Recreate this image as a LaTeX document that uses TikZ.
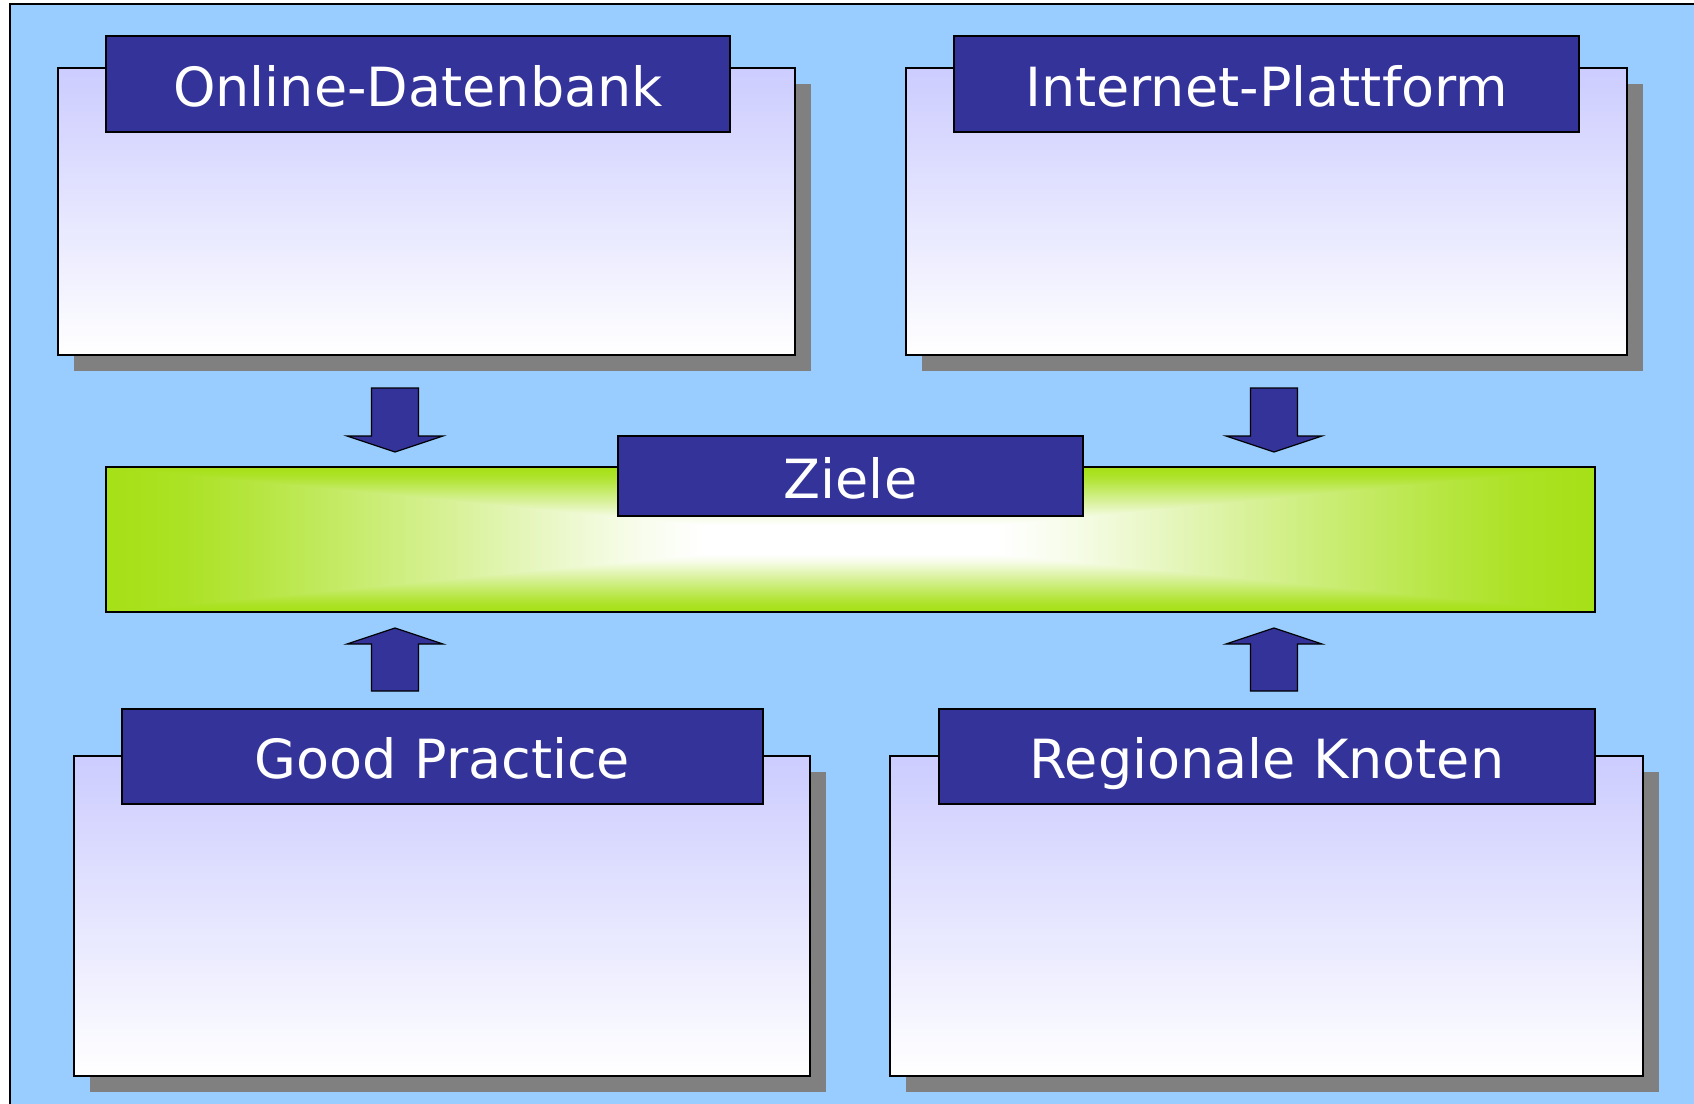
\documentclass[tikz,border=0pt]{standalone}
\usepackage{fontspec}
\setmainfont{DejaVu Sans}

\definecolor{bgblue}{HTML}{99CCFF}
\definecolor{navy}{HTML}{333399}
\definecolor{lavender}{HTML}{CCCCFF}
\definecolor{shadowgray}{HTML}{808080}
\definecolor{zgreen}{HTML}{A6E016}

% green bar: same profile from the sides and from top/bottom
\pgfdeclarehorizontalshading{zielh}{100bp}{%
  color(0bp)=(zgreen); color(25bp)=(zgreen); color(27.5bp)=(zgreen!94!white);
  color(30bp)=(zgreen!82!white); color(33.5bp)=(zgreen!62!white);
  color(37bp)=(zgreen!42!white); color(40bp)=(zgreen!24!white);
  color(42.5bp)=(zgreen!10!white); color(45bp)=(white); color(55bp)=(white);
  color(57.5bp)=(zgreen!10!white); color(60bp)=(zgreen!24!white);
  color(63bp)=(zgreen!42!white); color(66.5bp)=(zgreen!62!white);
  color(70bp)=(zgreen!82!white); color(72.5bp)=(zgreen!94!white);
  color(75bp)=(zgreen); color(100bp)=(zgreen)}
\pgfdeclareverticalshading{zielv}{100bp}{%
  color(0bp)=(zgreen); color(25bp)=(zgreen); color(27.5bp)=(zgreen!94!white);
  color(30bp)=(zgreen!82!white); color(33.5bp)=(zgreen!62!white);
  color(37bp)=(zgreen!42!white); color(40bp)=(zgreen!24!white);
  color(42.5bp)=(zgreen!10!white); color(45bp)=(white); color(55bp)=(white);
  color(57.5bp)=(zgreen!10!white); color(60bp)=(zgreen!24!white);
  color(63bp)=(zgreen!42!white); color(66.5bp)=(zgreen!62!white);
  color(70bp)=(zgreen!82!white); color(72.5bp)=(zgreen!94!white);
  color(75bp)=(zgreen); color(100bp)=(zgreen)}

\tikzset{
  panel/.style={draw=black, line width=1pt, top color=lavender, bottom color=white},
  shadowbox/.style={fill=shadowgray},
  titlebox/.style={draw=black, line width=1pt, fill=navy},
  titletext/.style={text=white, font=\fontsize{27pt}{30pt}\selectfont,
        text height=20pt, text depth=0pt, inner sep=0pt},
  blockarrow/.style={draw=black, line width=0.6pt, fill=navy}
}

\begin{document}
\begin{tikzpicture}[x=0.5pt, y=-0.5pt]
\useasboundingbox (0,0) rectangle (1694,1104);

% background
\fill[white] (0,0) rectangle (1694,1104);
\fill[bgblue] (10,4) rectangle (1694,1104);
\draw[line width=1pt] (10,1104) -- (10,4) -- (1694,4);

% top left
\fill[shadowbox] (74,84) rectangle (811,371);
\draw[panel] (58,68) rectangle (795,355);
\draw[titlebox] (106,36) rectangle (730,132)
        node[titletext, pos=.5, yshift=-1pt] (online) {Online-Datenbank};

% top right
\fill[shadowbox] (922,84) rectangle (1643,371);
\draw[panel] (906,68) rectangle (1627,355);
\draw[titlebox] (954,36) rectangle (1579,132)
        node[titletext, pos=.5, yshift=-1pt] (internet) {Internet-Plattform};

% bottom left
\fill[shadowbox] (90,772) rectangle (826,1092);
\draw[panel] (74,756) rectangle (810,1076);
\draw[titlebox] (122,709) rectangle (763,804)
        node[titletext, pos=.5, yshift=-1pt] (practice) {Good Practice};

% bottom right
\fill[shadowbox] (906,772) rectangle (1659,1092);
\draw[panel] (890,756) rectangle (1643,1076);
\draw[titlebox] (939,709) rectangle (1595,804)
        node[titletext, pos=.5, yshift=-1pt] (knoten) {Regionale Knoten};

% ziele bar
\shade[shading=zielh] (106,467) rectangle (1595,612);
\begin{scope}
  \clip (106,467) -- (850.5,539.5) -- (1595,467) -- cycle
        (106,612) -- (850.5,539.5) -- (1595,612) -- cycle;
  \shade[shading=zielv] (106,467) rectangle (1595,612);
\end{scope}
\draw[line width=1pt] (106,467) rectangle (1595,612);
\draw[titlebox] (618,436) rectangle (1083,516)
        node[titletext, pos=.5, yshift=-1pt] (ziele) {Ziele};

% block arrows
\foreach \c in {395,1274} {
  \draw[blockarrow] ({\c-23.5},388) -- ({\c+23.5},388) -- ({\c+23.5},436)
        -- ({\c+48},436) -- (\c,452) -- ({\c-48},436) -- ({\c-23.5},436) -- cycle;
  \draw[blockarrow] ({\c-23.5},691) -- ({\c+23.5},691) -- ({\c+23.5},644)
        -- ({\c+48},644) -- (\c,628) -- ({\c-48},644) -- ({\c-23.5},644) -- cycle;
}
\end{tikzpicture}
\end{document}
